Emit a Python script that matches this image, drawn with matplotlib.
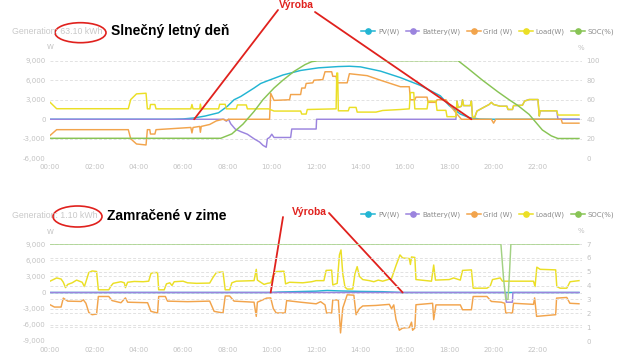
import matplotlib
matplotlib.use('Agg')
import matplotlib.pyplot as plt
from matplotlib.lines import Line2D
from matplotlib.patches import Ellipse
from matplotlib.ticker import FuncFormatter

# ---- data, time in hours ----
hour_ticks = [0, 2, 4, 6, 8, 10, 12, 14, 16, 18, 20, 22]
hour_labels = ['00:00', '02:00', '04:00', '06:00', '08:00', '10:00',
               '12:00', '14:00', '16:00', '18:00', '20:00', '22:00']
series_names = ['PV(W)', 'Battery(W)', 'Grid (W)', 'Load(W)', 'SOC(%)']

# sunny summer day
sun_title = 'Slnečný letný deň'
sun_generation = 'Generation: 63.10 kWh'

sun_pv_t = [0, 5.5, 6.0, 6.5, 7.0, 7.6, 8.0, 8.3, 8.6, 9.2, 9.5, 9.8, 10.5, 11.3, 12.1,
            13.0, 13.5, 14.0, 14.9, 15.8, 16.7, 17.6, 18.0, 18.5, 18.9, 19.4, 20.0, 23.85]
sun_pv = [0, 0, 50, 200, 500, 1000, 2000, 3000, 3500, 4800, 5500, 5900, 6800, 7500, 7900,
          8100, 8150, 8050, 7400, 6400, 5200, 3600, 2100, 800, 250, 30, 0, 0]

# in the evening the battery line runs hidden under the load line
sun_bat_t = [0, 7.85, 7.95, 8.05, 8.15, 8.35, 8.6, 8.9, 9.2, 9.45, 9.6, 9.75, 9.8, 9.9,
             10.0, 10.1, 10.85, 10.9, 12.0, 12.02, 18.3, 18.35, 18.4, 18.55, 18.6, 18.65,
             18.95, 19.0, 19.05, 19.15, 19.25, 19.55, 19.8, 19.9, 20.0, 20.3, 20.6, 20.65,
             20.85, 20.9, 21.3, 21.4, 21.6, 22.0, 22.06, 22.1, 22.85, 22.9, 23.85]
sun_bat = [0, 0, -300, 0, -700, -1500, -1900, -2300, -3000, -3500, -4000, -4300, -3000, -2800,
           -2300, -2800, -2800, -1500, -1500, 0, 0, 2800, 1800, 2000, 3000, 2100,
           2100, 2800, 300, 300, 1260, 1820, 2270, 2600, 2270, 2000, 2000, 1500,
           1500, 2100, 2150, 2800, 3030, 3030, 500, 1300, 1300, 0, 0]

sun_grid_t = [0, 0.3, 3.53, 3.64, 3.9, 4.33, 4.39, 4.5, 4.53, 4.73, 4.78, 6.35, 6.4, 6.45,
              6.75, 6.78, 6.82, 7.2, 7.5, 7.8, 7.95, 8.05, 9.9, 9.95, 10.1, 10.8, 10.85,
              11.3, 11.35, 11.5, 11.55, 11.85, 11.9, 12.3, 12.4, 12.7, 12.75, 12.9, 12.95,
              13.4, 13.5, 14.3, 14.9, 15.8, 16.2, 16.25, 16.45, 16.5, 17.0, 17.05, 17.4,
              17.45, 17.85, 18.0, 18.3, 18.55, 19.9, 20.0, 20.1, 23.05, 23.1, 23.85]
sun_grid = [-2500, -1600, -1600, -3000, -3800, -3950, -1600, -1600, -2270, -2270, -1600, -1260, -2100, -1260,
            -1100, -2000, -1100, -800, -250, 0, -200, 0, 0, 4000, 2900, 3000, 3800,
            3800, 4800, 4800, 5500, 5600, 6000, 6100, 7300, 7300, 6600, 6600, 5600,
            5600, 7000, 6700, 6000, 5000, 5000, 3000, 3000, 3400, 3400, 2600, 2600,
            3000, 3000, 2300, 1000, 0, 0, -600, 0, 0, -600, -600]

sun_load_t = [0, 0.3, 3.53, 3.64, 3.9, 4.33, 4.39, 4.5, 4.53, 4.73, 4.78, 6.35, 6.4, 6.45,
              6.75, 6.78, 6.82, 7.6, 7.65, 7.9, 7.95, 8.4, 8.45, 8.85, 8.9, 9.85, 10.1,
              11.3, 11.35, 11.55, 11.6, 12.9, 12.93, 12.97, 13.0, 13.45, 13.5, 13.8, 13.85,
              14.7, 15.0, 15.8, 16.2, 16.25, 16.4, 16.45, 17.0, 17.05, 17.4, 17.45, 17.85,
              17.9, 18.3, 18.35, 18.4, 18.55, 18.6, 18.65, 18.95, 19.0, 19.05, 19.15, 19.25,
              19.55, 19.8, 19.9, 20.0, 20.3, 20.6, 20.65, 20.85, 20.9, 21.3, 21.4, 21.6,
              22.0, 22.06, 22.1, 22.85, 22.9, 23.85]
sun_load = [2620, 1620, 1620, 3030, 3900, 4000, 1600, 1600, 2270, 2270, 1600, 1600, 2270, 1600,
            1600, 2330, 1600, 1600, 2300, 2300, 1600, 1600, 2200, 2200, 1600, 1600, 1260,
            1260, 800, 800, 1500, 1600, 7100, 7100, 1300, 1300, 1820, 1820, 1100,
            1100, 1350, 1500, 1600, 4100, 4100, 1600, 1600, 2780, 2780, 1370, 1370,
            400, 400, 2800, 1800, 2000, 3000, 2100, 2100, 2800, 300, 300, 1260,
            1820, 2270, 2600, 2270, 2000, 2000, 1500, 1500, 2100, 2150, 2800, 3030,
            3030, 500, 1300, 1300, 650, 650]

sun_soc_t = [0, 7.7, 8.2, 8.7, 9.2, 9.6, 10.1, 10.5, 11.0, 11.5, 11.8, 12.1, 18.4, 18.85,
             19.5, 20.2, 20.7, 21.1, 21.6, 21.9, 22.2, 22.6, 22.9, 23.85]
sun_soc = [20.5, 20.5, 25, 35, 48, 60, 72, 80, 89, 96, 99, 100, 100, 92,
           80, 68, 60, 54, 45, 37, 29, 23, 20.3, 20.3]

# cloudy winter day
win_title = 'Zamračené v zime'
win_generation = 'Generation: 1.10 kWh'

win_pv_t = [0, 9.95, 10.3, 11.0, 12.0, 12.5, 13.0, 13.5, 14.0, 15.0, 15.9, 23.85]
win_pv = [0, 0, 80, 150, 250, 380, 300, 250, 200, 150, 0, 0]

win_bat_t = [0, 20.55, 20.57, 20.85, 20.87, 23.85]
win_bat = [0, 0, -1800, -1800, 0, 0]

win_grid_t = [0, 0.2, 0.5, 0.6, 0.8, 1.4, 1.5, 1.62, 1.75, 1.9, 2.1, 2.18, 2.65, 2.8, 3.2,
              3.4, 3.5, 4.4, 4.55, 4.85, 4.9, 5.2, 5.3, 6.2, 7.2, 7.4, 7.8, 7.9, 8.1, 8.3,
              9.2, 9.3, 9.35, 9.77, 9.95, 10.07, 10.2, 10.6, 10.67, 11.3, 12.0, 12.2, 12.4,
              12.47, 12.7, 12.75, 13.0, 13.1, 13.2, 13.4, 13.7, 13.8, 13.95, 14.1, 14.7,
              15.0, 15.3, 15.4, 15.5, 15.6, 15.75, 15.9, 16.2, 16.3, 16.35, 16.45, 16.5,
              17.25, 17.3, 17.4, 18.5, 18.6, 19.0, 19.08, 19.7, 19.9, 20.35, 20.5, 20.55,
              20.85, 20.9, 21.8, 21.85, 21.94, 22.8, 22.84, 23.3, 23.44, 23.85]
win_grid = [-2270, -2700, -2700, -1040, -1600, -1660, -1350, -2000, -3700, -4120, -4000, -740, -740, -1500, -1900,
            -1000, -1800, -1900, -3500, -3800, -740, -740, -1600, -1700, -1600, -3500, -3800, -650, -650, -1600,
            -1800, -4430, -1800, -1040, -1000, -3000, -3800, -3800, -1500, -1800, -2100, -1700, -2300,
            -3810, -3800, -1350, -1400, -7500, -2880, -425, -500, -4120, -3000, -2500, -2400,
            -2300, -2200, -3000, -2300, -5000, -7000, -6600, -6500, -5500, -7000, -6600, -2270,
            -2000, -5040, -2300, -2300, -3200, -3200, -740, -740, -1660, -1800, -2000, -3800,
            -3800, -2000, -2200, -1000, -4430, -4120, -1040, -920, -2000, -2090]

win_load_t = [0, 0.3, 0.5, 0.6, 0.7, 0.8, 1.0, 1.2, 1.45, 1.55, 1.62, 1.75, 1.9, 2.1, 2.18,
              2.65, 2.75, 2.85, 3.2, 3.35, 3.4, 3.5, 3.8, 4.2, 4.45, 4.55, 4.65, 4.85, 4.9,
              5.15, 5.25, 5.4, 5.5, 5.6, 6.0, 6.2, 6.6, 7.2, 7.35, 7.5, 7.8, 7.9, 8.1, 8.2,
              8.4, 9.2, 9.3, 9.35, 9.65, 9.8, 9.95, 10.07, 10.2, 10.55, 10.62, 10.8, 11.4,
              11.8, 12.0, 12.35, 12.45, 12.7, 12.75, 12.95, 13.05, 13.12, 13.2, 13.3, 13.4,
              13.65, 13.75, 13.85, 13.95, 14.1, 14.4, 14.6, 14.8, 15.0, 15.4, 15.6, 15.78,
              15.9, 16.2, 16.25, 16.3, 16.45, 16.5, 17.2, 17.3, 17.38, 18.0, 18.2, 18.5,
              18.6, 19.0, 19.08, 19.7, 19.85, 19.95, 20.3, 20.4, 21.8, 21.87, 21.95, 22.1,
              22.8, 22.85, 23.0, 23.3, 23.45, 23.85]
win_load = [2100, 2700, 2500, 1900, 900, 1500, 1800, 2300, 1900, 1100, 2000, 3700, 4000, 3900, 500,
            500, 1200, 1700, 2000, 1800, 900, 1900, 2050, 2000, 2100, 3500, 3700, 3700, 500,
            500, 1600, 1800, 1300, 2000, 2100, 1800, 1700, 1750, 2800, 3700, 3800, 500, 500, 1800,
            2100, 2200, 4300, 2300, 1500, 1700, 1800, 3200, 3880, 3950, 1600, 1900, 1800,
            2000, 2200, 2200, 4100, 4150, 1400, 1700, 7000, 7900, 3500, 1000, 630,
            650, 3500, 4800, 3000, 2400, 2200, 2000, 2300, 2100, 2600, 5000, 6970,
            6400, 6300, 5200, 6600, 6500, 2400, 2100, 5100, 2300, 2400, 2700, 2300,
            4100, 4200, 800, 800, 1200, 2400, 2700, 2100, 2100, 1100, 4700, 4300,
            4200, 1100, 800, 800, 2000, 2200]

win_soc_t = [0, 20.33, 20.45, 20.55, 20.65, 20.72, 20.78, 23.85]
win_soc = [7, 7, 4.5, 3.0, 3.0, 5, 7, 7]

# ---- look ----
W, H = 625, 358
colors = ['#22b5d3', '#9b84de', '#f2a44c', '#ebdf25', '#88c455']
grey_txt = '#c2c2c2'
grid_col = '#e2e2e2'
red = '#e0211d'

fig = plt.figure(figsize=(W / 100, H / 100), dpi=100)


def px_rect(left, top, right, bottom):
    return [left / W, 1 - bottom / H, (right - left) / W, (bottom - top) / H]


def style(ax, axr, ylim, yticks, rlim, rticks, right_grid):
    ax.set_xlim(0, 24)
    ax.set_ylim(*ylim)
    ax.set_yticks(yticks)
    ax.yaxis.set_major_formatter(FuncFormatter(lambda v, p: f'{int(v):,}'))
    ax.set_xticks(hour_ticks)
    ax.set_xticklabels(hour_labels)
    axr.set_ylim(*rlim)
    axr.set_yticks(rticks)
    for a in (ax, axr):
        for s in a.spines.values():
            s.set_visible(False)
        a.tick_params(length=0, labelsize=5, colors=grey_txt, pad=3)
    ax.tick_params(axis='x', pad=4)
    ax.grid(axis='y', color=grid_col, ls=(0, (3, 2)), lw=0.7)
    if right_grid:
        axr.grid(axis='y', color=grid_col, ls=(0, (3, 2)), lw=0.7)
    ax.set_axisbelow(True)


def panel(ax, axr, pv, bat, grid, load, soc, soc_col):
    ax.plot(pv[0], pv[1], color=colors[0], lw=1.05, zorder=3)
    ax.plot(bat[0], bat[1], color=colors[1], lw=1.05, zorder=4)
    ax.plot(grid[0], grid[1], color=colors[2], lw=1.05, zorder=5)
    ax.plot(load[0], load[1], color=colors[3], lw=1.05, zorder=6)
    axr.plot(soc[0], soc[1], color=soc_col, lw=1.05)


def legend(y):
    handles = [Line2D([], [], color=c, lw=1.1, marker='o', markersize=3.8) for c in colors]
    fig.legend(handles, series_names, loc='center right', bbox_to_anchor=(614 / W, 1 - y / H),
               ncol=5, frameon=False, fontsize=5, labelcolor='#8a8a8a', handlelength=2.0,
               handletextpad=0.4, columnspacing=0.9, borderpad=0, borderaxespad=0)


# top panel
ax1 = fig.add_axes(px_rect(50, 60.7, 582.3, 158.3))
ax1r = ax1.twinx()
style(ax1, ax1r, (-6000, 9000), [-6000, -3000, 0, 3000, 6000, 9000],
      (0, 100), [0, 20, 40, 60, 80, 100], False)
panel(ax1, ax1r, (sun_pv_t, sun_pv), (sun_bat_t, sun_bat), (sun_grid_t, sun_grid),
      (sun_load_t, sun_load), (sun_soc_t, sun_soc), colors[4])

# bottom panel
ax2 = fig.add_axes(px_rect(50, 244, 582.3, 341))
ax2r = ax2.twinx()
style(ax2, ax2r, (-9000, 9000), [-9000, -6000, -3000, 0, 3000, 6000, 9000],
      (0, 7), [0, 1, 2, 3, 4, 5, 6, 7], True)
panel(ax2, ax2r, (win_pv_t, win_pv), (win_bat_t, win_bat), (win_grid_t, win_grid),
      (win_load_t, win_load), (win_soc_t, win_soc), '#a2d183')

# headers
for y_txt, gen, title, tx in [(32, sun_generation, sun_title, 111), (216, win_generation, win_title, 107)]:
    fig.text(12 / W, 1 - y_txt / H, gen, fontsize=6.3, color='#c9c9c9', va='center',
             family='Liberation Sans')
    fig.text(tx / W, 1 - (y_txt - 0.5) / H, title, fontsize=10, weight='bold', color='black',
             va='center', family='Liberation Sans')
fig.add_artist(Ellipse((80.5 / W, 1 - 32.7 / H), 51 / W, 20 / H, transform=fig.transFigure,
                       fill=False, ec=red, lw=1.2))
fig.add_artist(Ellipse((77.5 / W, 1 - 216.5 / H), 49 / W, 21 / H, transform=fig.transFigure,
                       fill=False, ec=red, lw=1.2))

# unit labels
for y_w, y_p in [(47, 48), (232, 231)]:
    fig.text(50 / W, 1 - y_w / H, 'W', fontsize=5, color=grey_txt, ha='center', va='center')
    fig.text(581 / W, 1 - y_p / H, '%', fontsize=5, color=grey_txt, ha='center', va='center')

legend(32)
legend(215)

# "Výroba" call-outs
fig.text(296 / W, 1 - 5 / H, 'Výroba', fontsize=7.4, weight='bold', color=red,
         ha='center', va='center', family='Liberation Sans')
fig.text(309 / W, 1 - 212 / H, 'Výroba', fontsize=7.4, weight='bold', color=red,
         ha='center', va='center', family='Liberation Sans')
arrow = dict(arrowstyle='-', color=red, lw=1.3, shrinkA=0, shrinkB=0)
ax1.annotate('', xy=(6.5, 0), xycoords='data', xytext=(278, H - 10),
             textcoords='figure pixels', arrowprops=arrow, zorder=10)
ax1.annotate('', xy=(19.0, 0), xycoords='data', xytext=(315, H - 12),
             textcoords='figure pixels', arrowprops=arrow, zorder=10)
ax2.annotate('', xy=(9.95, 0), xycoords='data', xytext=(283, H - 217),
             textcoords='figure pixels', arrowprops=arrow, zorder=10)
ax2.annotate('', xy=(15.9, 0), xycoords='data', xytext=(329, H - 213),
             textcoords='figure pixels', arrowprops=arrow, zorder=10)

fig.savefig('out.png', dpi=100)
